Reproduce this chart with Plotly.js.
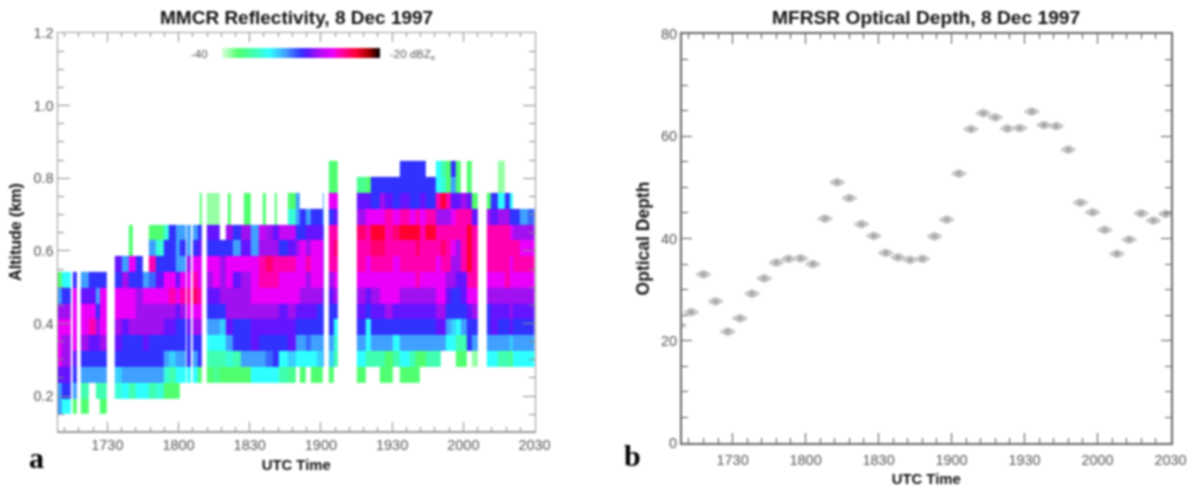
<!DOCTYPE html>
<html>
<head>
<meta charset="utf-8">
<script src="https://cdn.plot.ly/plotly-3.0.1.min.js"></script>
<style>html,body{margin:0;padding:0;background:#fff}#chart{width:1189px;height:487px;filter:blur(0.8px)}</style>
</head>
<body>
<div id="chart"></div>
<script>
const n = null;
// Panel a: altitude bin edges (km)
const altitudeEdges = [0.150,0.194,0.237,0.281,0.324,0.368,0.412,0.455,0.499,0.542,0.586,0.630,0.673,0.717,0.760,0.804,0.848];
// Panel a: time column edges (minutes after 1700 UTC)
const timeEdges = [9.1,10.8,14.4,15.6,17.3,18.7,22.1,24.9,27.0,29.9,33.1,36.2,39.0,40.7,41.8,44.9,47.5,50.3,53.8,55.9,58.7,60.4,63.0,63.5,65.1,65.8,67.9,69.0,69.7,71.7,74.4,77.3,79.9,80.7,82.0,82.9,86.2,87.5,90.4,93.9,95.5,96.8,99.6,100.5,101.4,102.4,105.9,109.4,111.1,113.7,115.8,118.2,120.7,121.4,123.1,125.2,127.3,135.2,139.0,141.1,144.6,146.7,150.3,153.1,157.3,160.1,161.5,164.0,168.2,170.7,172.5,174.9,176.7,179.1,181.3,183.4,186.2,190.0,191.4,194.6,197.4,199.5,200.9,203.7,207.3,210.0];
// Panel a: reflectivity (dBZe), one list per time column, lowest altitude bin first
const reflectivity = [
[-32,-32,-29,-26,-26,-26,-28,-32,-38],
[-34,-30,-29,-28,-28,-26,-28,-30,-34],
[],
[-38,-32,-30,-29,-26,-26,-26,-26,-30],
[],
[-38,-36,-32,-30,-28,-26,-26,-29,-32],
[n,n,-32,-30,-29,-25,-26,-29,-30],
[n,-36,-32,-30,-29,-28,-30,-32,-30],
[-38,-36,-32,-30,-28,-26,-26,-26,-30],
[],
[n,-35,-33,-30,-29,-28,-26,-26,-30,-29],
[n,-34,-32,-30,-30,-29,-26,-26,-28,-32],
[n,-36,-32,-30,-30,-28,-26,-26,-30,-26,-38,-38],
[n,-36,-32,-30,-30,-28,-26,-26,-30,-26],
[n,-34,-32,-30,-30,-28,-28,-28,-30,-30],
[n,-34,-32,-30,-29,-28,-28,-26,-32],
[n,-36,-32,-30,-30,-28,-28,-26,-31,-25,-32,-38],
[n,-35,-32,-30,-30,-28,-28,-26,-29,-30,-35,-38],
[n,-38,-35,-32,-30,-29,-28,-26,-26,-30,-30,-35],
[n,-38,-36,-33,-30,-29,-28,-25,-26,-30,-30,-30],
[n,-38,-34,-32,-30,-30,-29,-26,-29,-32,-32,-32],
[n,n,-34,-32,-30,-30,-28,-25,-26,-32,-30,-32],
[],
[n,n,-34,-30,-30,-29,-26,-25,-26,-28,-32,-32],
[],
[n,n,-34,-32,-30,-28,-26,-24,-25,-26,-30,-32],
[n,n,-38,-30,-30,-28,-26,-25,-26,-26,-29,-30],
[n,n,-38,-30,-30,-28,-26,-25,-26,-26,-29,-30,-38,-38],
[],
[n,n,-38,-36,-34,-32,-30,-29,-28,-26,-30,-29,-39,-39],
[n,n,-37,-36,-34,-32,-30,-29,-26,-26,-30,-29,-39,-39],
[n,n,-38,-36,-34,-33,-30,-28,-28,-28,-30],
[n,n,-38,-35,-32,-29,-28,-28,-26,-26,-30,-28],
[n,n,-38,-35,-32,-29,-28,-28,-26,-26,-30,-28,-38,-38],
[n,n,-38,-35,-32,-29,-28,-28,-26,-26,-30,-28],
[n,n,-38,-36,-30,-30,-28,-28,-29,-26,-32,-30],
[n,n,-38,-32,-30,-30,-28,-28,-28,-26,-29,-28],
[n,n,-38,-32,-30,-30,-28,-28,-28,-26,-29,-28,-38,-38],
[n,n,-34,-32,-29,-29,-28,-26,-26,-26,-32,-32],
[n,n,-34,-32,-30,-29,-28,-26,-25,-25,-28,-27],
[n,n,-34,-32,-30,-29,-28,-26,-25,-25,-28,-27,-38,-38],
[n,n,-34,-31,-30,-29,-28,-26,-25,-24,-28,-28],
[n,n,-34,-30,-30,-29,-28,-26,-25,-25,-28,-29],
[n,n,-34,-30,-30,-29,-28,-26,-25,-25,-28,-29,-38,-38],
[n,n,-34,-30,-30,-29,-28,-26,-25,-25,-28,-29],
[n,n,-36,-34,-30,-29,-29,-26,-26,-25,-30,-27],
[n,n,-37,-33,-29,-29,-28,-26,-26,-25,-29,-27,-35,-38],
[n,n,n,-34,-32,-30,-29,-26,-26,-26,-28,-30,-32,-32],
[n,n,-38,-34,-32,-30,-29,-28,-26,-26,-26,-30,-30],
[n,n,n,-34,-31,-30,-29,-28,-28,-25,-28,-29,-32],
[n,n,-38,-34,-32,-30,-29,-28,-26,-26,-26,-29,-30],
[n,n,-38,-33,-32,-30,-30,-28,-26,-26,-26,-29,-30],
[n,n,n,-32,-32,-30,-30,-29,-28,-28,-28,-30,-32,-32],
[],
[n,n,-38,-33,-32,-30,-30,-29,-28,-25,-25,-25,-30,-26,-38,-38],
[n,n,n,-36,-35,-34,-30,-28,-26,-25,-24,-25,-29,-26,-38,-38],
[],
[n,n,-38,-34,-32,-30,-29,-28,-26,-25,-25,-24,-28,-29,-37],
[n,n,n,-36,-34,-34,-30,-29,-26,-26,-25,-25,-26,-29,-38],
[n,n,n,-36,-32,-30,-29,-28,-26,-25,-24,-23,-26,-30,-30],
[n,n,-38,-36,-32,-30,-29,-26,-26,-25,-24,-23,-26,-28,-30],
[n,n,-38,-38,-32,-30,-28,-26,-26,-25,-25,-25,-25,-29,-30],
[n,n,n,-36,-34,-30,-29,-26,-26,-26,-25,-24,-26,-30,-30],
[n,n,-38,-34,-32,-30,-29,-28,-26,-25,-25,-23,-25,-29,-30,-30],
[n,n,-38,-36,-32,-30,-29,-28,-26,-25,-25,-23,-26,-30,-30,-30],
[n,n,-38,-38,-32,-30,-29,-28,-25,-25,-24,-23,-25,-30,-30,-30],
[n,n,n,-38,-32,-30,-29,-28,-26,-25,-25,-25,-26,-29,-30,-30],
[n,n,n,-36,-32,-30,-29,-28,-26,-25,-25,-23,-25,-30,-30],
[n,n,n,-36,-32,-29,-28,-26,-26,-26,-25,-25,-28,-25,-34,-34],
[n,n,n,n,-32,-29,-28,-26,-26,-25,-24,-25,-28,-23,-35,-36],
[n,n,n,n,-34,-32,-30,-29,-28,-25,-25,-25,-28,-25,-38,-38],
[n,n,n,n,-34,-33,-30,-30,-28,-28,-26,-25,-26,-29,-32,-30],
[n,n,n,-38,-36,-34,-30,-30,-29,-28,-28,-25,-25,-29,-38,-38],
[n,n,n,-38,-36,-32,-30,-29,-29,-25,-25,-25,-25,-28],
[n,n,n,n,-30,-30,-29,-26,-25,-23,-23,-23,-25,-29,-38,-38],
[n,n,n,-39,-32,-30,-28,-26,-25,-25,-25,-25,-29,-38],
[],
[n,n,n,-34,-32,-30,-30,-28,-26,-25,-25,-25,-28,-38],
[n,n,n,-34,-32,-29,-29,-28,-26,-25,-25,-25,-29,-30],
[n,n,n,-36,-32,-30,-29,-28,-26,-25,-25,-25,-28,-34,-39,-39],
[n,n,n,-36,-32,-30,-29,-28,-25,-25,-25,-25,-28,-30],
[n,n,n,-37,-33,-29,-28,-28,-26,-26,-25,-26,-30,-34],
[n,n,n,-34,-32,-30,-29,-28,-26,-25,-25,-28,-30],
[n,n,n,-34,-32,-30,-29,-28,-26,-25,-26,-28,-32],
[n,n,n,-34,-32,-30,-29,-28,-26,-25,-26,-28,-31]
];
// Panel b: optical depth, 5-minute samples (minutes after 1700 UTC)
const opticalTimes = [8,13,18,23,28,33,38,43,48,53,58,63,68,73,78,83,88,93,98,103,108,113,118,123,128,133,138,143,148,153,158,163,168,173,178,183,188,193,198,203,208];
const opticalDepth = [23,25.6,33,27.7,21.8,24.4,29.2,32.2,35.3,36,36.1,35,43.9,51,47.9,42.8,40.5,37.2,36.3,35.8,36,40.4,43.7,52.7,61.4,64.5,63.7,61.5,61.6,64.8,62.2,62,57.4,47,45.1,41.7,37,39.8,44.9,43.5,44.8];
// Tick positions and labels
const timeTicks = [30,60,90,120,150,180,210];
const timeLabels = ['1730','1800','1830','1900','1930','2000','2030'];

const W = 1189, H = 487;
const px = v => v / W, py = v => 1 - v / H;
const z = altitudeEdges.slice(1).map((_, k) => reflectivity.map(c => (c[k] === undefined ? null : c[k])));

const colours = [
  [0, '#dcffdc'], [0.1, '#50ff70'], [0.2, '#40ffb0'], [0.3, '#30ffff'], [0.4, '#40a0ff'],
  [0.5, '#3232ff'], [0.55, '#6414ff'], [0.6, '#a010f0'], [0.7, '#ea00fa'], [0.75, '#ff00b0'],
  [0.85, '#ff0030'], [0.93, '#a00000'], [1, '#000000']
];
const sans = 'Liberation Sans, Arial, sans-serif';
const tickFont = {family: sans, size: 14.5, color: '#555'};
const labelFont = {family: sans, size: 14.8, color: '#111'};

const traces = [
  {type: 'heatmap', x: timeEdges, y: altitudeEdges, z: z, zmin: -40, zmax: -20, zsmooth: false,
   colorscale: colours, hoverongaps: false, xaxis: 'x', yaxis: 'y',
   colorbar: {orientation: 'h', x: px(222), xanchor: 'left', y: py(58), yanchor: 'bottom',
     len: 158, lenmode: 'pixels', thickness: 10, thicknessmode: 'pixels', outlinewidth: 0,
     xpad: 0, ypad: 0, showticklabels: false, ticks: ''}},
  {type: 'scatter', mode: 'markers', x: opticalTimes, y: opticalDepth, xaxis: 'x2', yaxis: 'y2', showlegend: false,
   marker: {symbol: 'diamond-wide', size: 10, color: '#c6c6c6', line: {color: '#c6c6c6', width: 2}}},
  {type: 'scatter', mode: 'markers', x: opticalTimes, y: opticalDepth, xaxis: 'x2', yaxis: 'y2', showlegend: false,
   marker: {symbol: 'x-thin-open', size: 5, color: '#808080', line: {color: '#808080', width: 1}}}
];

const xCommon = {
  range: [9.2, 210], tickmode: 'array', tickvals: timeTicks, ticktext: timeLabels, tickfont: tickFont,
  ticks: 'inside', showline: true, mirror: 'allticks', showgrid: false, zeroline: false
};
const yCommon = {ticks: 'inside', showline: true, mirror: 'allticks', showgrid: false, zeroline: false, tickfont: tickFont};

const layout = {
  width: W, height: H, margin: {l: 0, r: 0, t: 0, b: 0}, paper_bgcolor: '#fff', plot_bgcolor: '#fff', showlegend: false,
  font: {family: sans},
  xaxis: Object.assign({}, xCommon, {domain: [px(58), px(534.5)], anchor: 'y', ticklen: 9, tickcolor: '#888', linecolor: '#999', linewidth: 1.5,
    minor: {ticks: 'inside', dtick: 6, ticklen: 4, tickcolor: '#888'},
    title: {text: '<b>UTC Time</b>', font: labelFont, standoff: 7}}),
  yaxis: Object.assign({}, yCommon, {domain: [py(431), py(33)], anchor: 'x', range: [0.104, 1.2], tickvals: [0.2,0.4,0.6,0.8,1.0,1.2], ticktext: ['0.2','0.4','0.6','0.8','1.0','1.2'], ticklen: 12, tickcolor: '#888', linecolor: '#999', linewidth: 1.5,
    minor: {ticks: 'inside', dtick: 0.05, ticklen: 6, tickcolor: '#888'},
    title: {text: '<b>Altitude (km)</b>', font: Object.assign({}, labelFont, {size: 16}), standoff: 8}}),
  xaxis2: Object.assign({}, xCommon, {domain: [px(682), px(1170.5)], anchor: 'y2', ticklen: 10, tickcolor: '#555', linecolor: '#666', linewidth: 2, ticklabelstandoff: 3,
    minor: {ticks: 'inside', dtick: 6, ticklen: 5, tickcolor: '#555'},
    title: {text: '<b>UTC Time</b>', font: labelFont, standoff: 7}}),
  yaxis2: Object.assign({}, yCommon, {domain: [py(443), py(34)], anchor: 'x2', range: [0, 80], tickvals: [0,20,40,60,80], ticktext: ['0','20','40','60','80'], ticklen: 10, tickcolor: '#555', linecolor: '#666', linewidth: 2,
    minor: {ticks: 'inside', dtick: 5, ticklen: 6, tickcolor: '#555'},
    title: {text: '<b>Optical Depth</b>', font: Object.assign({}, labelFont, {size: 17.5}), standoff: 7}}),
  annotations: [
    {text: '<b>MMCR Reflectivity, 8 Dec 1997</b>', xref: 'paper', yref: 'paper', x: px(296), y: py(17), xanchor: 'center', yanchor: 'middle', showarrow: false, font: {family: sans, size: 19, color: '#111'}},
    {text: '<b>MFRSR Optical Depth, 8 Dec 1997</b>', xref: 'paper', yref: 'paper', x: px(925.5), y: py(18), xanchor: 'center', yanchor: 'middle', showarrow: false, font: {family: sans, size: 19.2, color: '#111'}},
    {text: '-40', xref: 'paper', yref: 'paper', x: px(210), y: py(54), xanchor: 'right', yanchor: 'middle', showarrow: false, font: {family: sans, size: 11.5, color: '#555'}},
    {text: '-20 dBZ<sub>e</sub>', xref: 'paper', yref: 'paper', x: px(388), y: py(55), xanchor: 'left', yanchor: 'middle', showarrow: false, font: {family: sans, size: 11.5, color: '#555'}},
    {text: '<b>a</b>', xref: 'paper', yref: 'paper', x: px(27), y: py(457), xanchor: 'left', yanchor: 'middle', showarrow: false, font: {family: 'Liberation Serif, serif', size: 30, color: '#000'}},
    {text: '<b>b</b>', xref: 'paper', yref: 'paper', x: px(622), y: py(455), xanchor: 'left', yanchor: 'middle', showarrow: false, font: {family: 'Liberation Serif, serif', size: 30, color: '#000'}}
  ]
};
Plotly.newPlot('chart', traces, layout, {displayModeBar: false, staticPlot: true});
</script>
</body>
</html>
